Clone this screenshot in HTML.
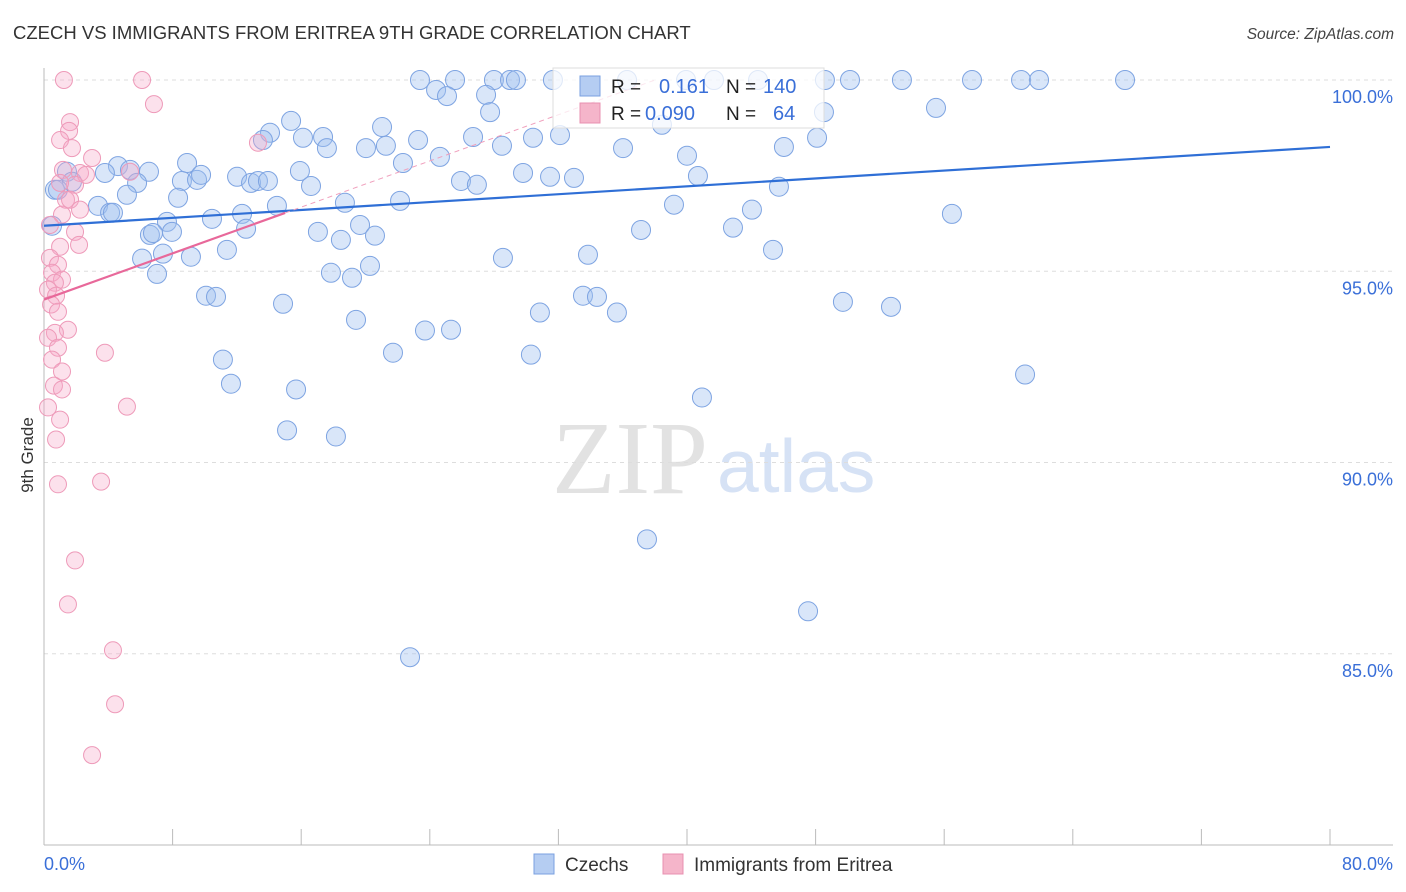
<!DOCTYPE html>
<html><head><meta charset="utf-8"><style>
body{margin:0;background:#fff;font-family:"Liberation Sans",sans-serif;}
#wrap{position:relative;width:1406px;height:892px;overflow:hidden;}
</style></head><body><div id="wrap">
<svg id="svg" width="1406" height="892" xmlns="http://www.w3.org/2000/svg">
<text x="13" y="39" font-size="18.5" fill="#333">CZECH VS IMMIGRANTS FROM ERITREA 9TH GRADE CORRELATION CHART</text>
<text x="1394" y="39" font-size="15.5" fill="#444" font-style="italic" text-anchor="end">Source: ZipAtlas.com</text>
<text transform="translate(33,455) rotate(-90)" font-size="17" fill="#333" text-anchor="middle">9th Grade</text>
<text x="552" y="493" font-size="104" fill="#e2e2e2" font-family="Liberation Serif,serif">ZIP</text>
<text x="717" y="492" font-size="75" fill="#d6e2f5">atlas</text>
<g id="grid"></g><g id="axes"></g><g id="pts"></g><g id="trend"></g>
<g>
<rect x="553" y="68" width="271" height="60" fill="rgba(255,255,255,0.75)" stroke="#ddd"/>
<rect x="580" y="76" width="20" height="20" fill="#b5cdf2" stroke="#7aa0e0"/>
<rect x="580" y="103" width="20" height="20" fill="#f5b5ca" stroke="#e890b0"/>
<text x="611" y="93" font-size="19" fill="#222">R =</text>
<text x="659" y="93" font-size="20" fill="#3a6fd8">0.161</text>
<text x="726" y="93" font-size="19" fill="#222">N =</text>
<text x="763" y="93" font-size="20" fill="#3a6fd8">140</text>
<text x="611" y="120" font-size="19" fill="#222">R =</text>
<text x="645" y="120" font-size="20" fill="#3a6fd8">0.090</text>
<text x="726" y="120" font-size="19" fill="#222">N =</text>
<text x="773" y="120" font-size="20" fill="#3a6fd8">64</text>
</g>
<g>
<rect x="534" y="854" width="20" height="20" fill="#b5cdf2" stroke="#7aa0e0"/>
<text x="565" y="871" font-size="19" fill="#333">Czechs</text>
<rect x="663" y="854" width="20" height="20" fill="#f5b5ca" stroke="#e890b0"/>
<text x="694" y="871" font-size="19" fill="#333">Immigrants from Eritrea</text>
</g>
</svg></div>
<script>
const blueX=[23.39,25.57,27.99,28.99,29.36,31.66,36.27,39.94,41.68,44.42,48.58,50.14,53.37,57.73,60.78,61.9,67.25,24.39,25.07,27.5,27.75,48.52,55.49,15.37,21.03,14.06,13.62,16.11,17.36,23.27,26.69,30.42,32.1,17.6,20.03,21.27,28.49,36.02,46.03,48.09,38.44,8.9,4.6,5.35,6.53,1.43,3.79,1.74,5.79,8.58,9.52,9.77,12.01,12.88,13.31,13.93,15.92,16.61,22.33,24.63,29.8,31.48,32.97,25.94,26.93,40.0,40.68,45.72,5.16,8.34,3.36,4.11,4.29,12.32,10.45,14.49,18.72,22.15,39.19,44.04,56.48,7.65,6.59,6.78,7.96,12.57,17.04,18.47,19.66,20.59,37.14,42.86,28.55,33.84,45.35,6.1,7.4,9.14,11.38,7.03,17.85,19.16,20.28,10.08,10.7,14.87,19.41,23.7,25.32,30.85,33.53,34.4,35.64,49.7,52.69,11.13,11.63,15.68,21.71,30.29,61.03,40.93,15.12,18.16,37.51,47.53,22.77,0.68,0.87,0.5];
const blueY=[100,100,100,100,100,100,100,100,100,100,100,100,100,100,100,100,100,99.74,99.58,99.61,99.16,99.16,99.27,98.93,98.77,98.62,98.43,98.49,98.51,98.43,98.51,98.49,98.56,98.22,98.22,98.28,98.28,98.22,98.25,98.49,98.83,97.83,97.75,97.65,97.6,97.6,97.57,97.34,97.31,97.36,97.39,97.52,97.47,97.31,97.36,97.36,97.62,97.23,97.83,97.99,97.57,97.47,97.44,97.36,97.26,98.02,97.49,97.21,97.0,96.92,96.71,96.53,96.53,96.5,96.37,96.71,96.79,96.84,96.74,96.61,96.5,96.29,95.95,96.0,96.03,96.11,96.03,95.82,96.21,95.93,96.08,96.14,95.35,95.43,95.56,95.33,95.46,95.38,95.56,94.93,94.96,94.83,95.14,94.36,94.33,94.15,93.73,93.45,93.47,93.92,94.36,94.33,93.92,94.2,94.07,92.69,92.06,91.91,92.87,92.82,92.3,91.7,90.84,90.68,87.99,86.11,84.91,97.13,97.13,96.19];
const pinkX=[1.24,6.1,6.84,1.62,1.56,1.0,1.74,2.99,1.18,2.24,2.61,1.93,5.35,13.31,1.37,1.62,2.24,1.12,1.93,1.0,2.18,0.37,0.87,0.5,1.12,0.68,0.25,0.75,0.44,0.87,1.49,0.68,0.25,0.87,3.79,0.5,1.12,0.62,1.12,5.16,0.25,1.0,0.75,3.55,0.87,1.93,1.49,4.29,4.42,2.99,0.37,1.0];
const pinkY=[100,100,99.37,98.9,98.67,98.43,98.22,97.96,97.65,97.57,97.52,97.26,97.6,98.36,96.87,96.87,96.61,96.48,96.03,95.64,95.69,95.35,95.17,94.96,94.78,94.7,94.52,94.36,94.13,93.94,93.47,93.39,93.26,93.0,92.87,92.69,92.38,92.01,91.91,91.46,91.44,91.12,90.6,89.5,89.43,87.44,86.29,85.09,83.68,82.35,96.21,97.31];
const blueTrend=[96.19,98.25]; // y at x=0 and x=80
const pinkTrend=[94.26,0.151]; // intercept, slope
const yTicks=[100,95,90,85];
const yTickLabels=["100.0%","95.0%","90.0%","85.0%"];
const xTicks=[0,8,16,24,32,40,48,56,64,72,80];

const NS="http://www.w3.org/2000/svg";
const X0=44,X1=1330,Y0=80,Y1=845;
const sx=v=>X0+(v/80)*(X1-X0);
const sy=v=>Y0+(100-v)/20*(Y1-Y0);
function mk(tag,attrs,parent){const e=document.createElementNS(NS,tag);for(const k in attrs)e.setAttribute(k,attrs[k]);document.getElementById(parent).appendChild(e);return e;}
yTicks.forEach((t,i)=>{
  const l=mk('line',{x1:X0,x2:1393,y1:sy(t),y2:sy(t),stroke:'#ddd','stroke-dasharray':'4,4'},'grid');
  
  
  const tx=mk('text',{x:1393,y:sy(t)+23,'font-size':18,fill:'#3a6fd8','text-anchor':'end'},'grid');
  tx.textContent=yTickLabels[i];
  
  
});
const ax=mk('line',{x1:X0,x2:1393,y1:Y1,y2:Y1,stroke:'#bbb'},'axes');


const ay=mk('line',{x1:X0,x2:X0,y1:68,y2:Y1,stroke:'#bbb'},'axes');


xTicks.forEach(t=>{
  const l=mk('line',{x1:sx(t),x2:sx(t),y1:Y1,y2:Y1-16,stroke:'#bbb'},'axes');
  
  
});
const xl0=mk('text',{x:44,y:870,'font-size':18,fill:'#3a6fd8'},'axes');xl0.textContent='0.0%';


const xl1=mk('text',{x:1393,y:870,'font-size':18,fill:'#3a6fd8','text-anchor':'end'},'axes');xl1.textContent='80.0%';


blueX.forEach((v,i)=>{
  const c=mk('circle',{cx:sx(v),cy:sy(blueY[i]),r:9.5,fill:'rgba(160,192,240,0.4)',stroke:'#7ea4e2','stroke-width':1},'pts');
  
  
});
pinkX.forEach((v,i)=>{
  const c=mk('circle',{cx:sx(v),cy:sy(pinkY[i]),r:8.5,fill:'rgba(245,170,200,0.35)',stroke:'#ee9ab9','stroke-width':1},'pts');
  
  
});
const bt=mk('line',{x1:sx(0),y1:sy(blueTrend[0]),x2:sx(80),y2:sy(blueTrend[1]),stroke:'#2f6fd6','stroke-width':2.2},'trend');


const pEnd=15, pTop=(100-pinkTrend[0])/pinkTrend[1];
const pt=mk('line',{x1:sx(0),y1:sy(pinkTrend[0]),x2:sx(pEnd),y2:sy(pinkTrend[0]+pinkTrend[1]*pEnd),stroke:'#e8689a','stroke-width':2.2},'trend');


const pd=mk('line',{x1:sx(pEnd),y1:sy(pinkTrend[0]+pinkTrend[1]*pEnd),x2:sx(pTop),y2:sy(100),stroke:'#f0a0bd','stroke-width':1,'stroke-dasharray':'5,4'},'trend');


</script></body></html>
